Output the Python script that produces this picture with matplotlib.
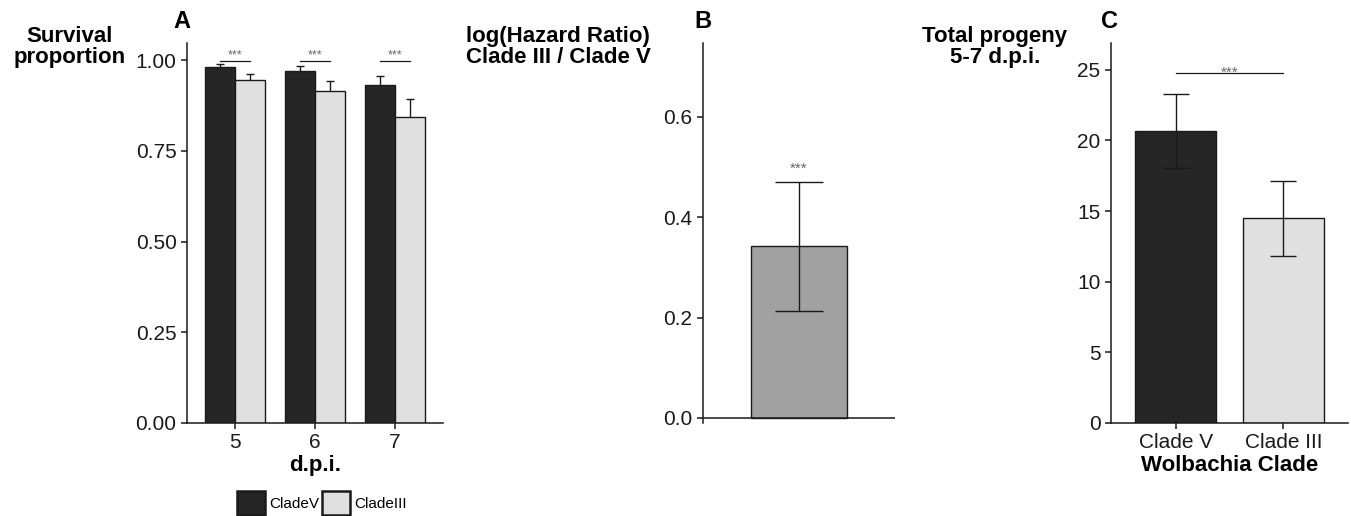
import matplotlib
matplotlib.use("Agg")
import matplotlib.pyplot as plt
from matplotlib.patches import Patch
import numpy as np

plt.rcParams['font.family'] = ['Liberation Sans', 'DejaVu Sans']

# panel A: survival proportion by d.p.i.
dpi_days = [5, 6, 7]
surv_v = [0.981, 0.970, 0.930]
surv_v_err = [0.009, 0.013, 0.025]
surv_iii = [0.944, 0.915, 0.842]
surv_iii_err = [0.018, 0.028, 0.051]
sig_a = ['***', '***', '***']

# panel B: log hazard ratio
hr_value = 0.342
hr_err = 0.128

# panel C: total progeny
clades = ['Clade V', 'Clade III']
progeny = [20.68, 14.5]
progeny_err = [2.63, 2.65]

dark = '#262626'
light = '#e0e0e0'
mid = '#a1a1a1'
ink = '#1a1a1a'
star = '#666666'

fig = plt.figure(figsize=(13.51, 5.16), dpi=100)
bottom = 1 - 423 / 516
top = 1 - 43 / 516
axA = fig.add_axes([187 / 1351, bottom, (443 - 187) / 1351, top - bottom])
axB = fig.add_axes([703 / 1351, bottom, (895 - 703) / 1351, top - bottom])
axC = fig.add_axes([1111 / 1351, bottom, (1348 - 1111) / 1351, top - bottom])

for ax in (axA, axB, axC):
    for s in ('top', 'right'):
        ax.spines[s].set_visible(False)
    for s in ('left', 'bottom'):
        ax.spines[s].set_linewidth(1.1)
        ax.spines[s].set_color(ink)
    ax.tick_params(labelsize=15, colors=ink, width=1.1, length=4)

# ---- A
x = np.array(dpi_days, dtype=float)
w = 0.375
ekw = dict(ecolor=ink, elinewidth=1.0, capthick=1.0)
axA.errorbar(x - w / 2, surv_v, yerr=surv_v_err, fmt='none', capsize=3.2, zorder=1, **ekw)
axA.errorbar(x + w / 2, surv_iii, yerr=surv_iii_err, fmt='none', capsize=3.2, zorder=1, **ekw)
axA.bar(x - w / 2, surv_v, width=w, color=dark, edgecolor=ink, linewidth=1.0, zorder=2)
axA.bar(x + w / 2, surv_iii, width=w, color=light, edgecolor=ink, linewidth=1.0, zorder=2)
for xi, s in zip(x, sig_a):
    axA.plot([xi - w / 2, xi + w / 2], [0.998, 0.998], color=ink, lw=0.9, zorder=3)
    axA.text(xi, 0.996, s, ha='center', va='bottom', fontsize=9, color=star)
axA.set_xlim(4.4, 7.6)
axA.set_ylim(0, 1.047)
axA.set_xticks(dpi_days)
axA.set_yticks([0, 0.25, 0.5, 0.75, 1.0])
axA.set_yticklabels(['0.00', '0.25', '0.50', '0.75', '1.00'])
axA.set_xlabel('d.p.i.', fontsize=16, fontweight='bold', labelpad=2)

# ---- B
axB.bar([1], [hr_value], width=0.6, color=mid, edgecolor=ink, linewidth=1.0, zorder=2)
axB.errorbar([1], [hr_value], yerr=[hr_err], fmt='none', capsize=17, zorder=3, **ekw)
axB.text(1, hr_value + hr_err + 0.012, '***', ha='center', va='bottom', fontsize=11, color=star)
axB.axhline(0, color=ink, lw=1.1, zorder=4)
axB.spines['bottom'].set_visible(False)
axB.set_xlim(0.4, 1.6)
axB.set_ylim(-0.01, 0.7475)
axB.set_xticks([])
axB.set_yticks([0, 0.2, 0.4, 0.6])
axB.set_yticklabels(['0.0', '0.2', '0.4', '0.6'])

# ---- C
xc = np.arange(1, len(clades) + 1)
axC.bar(xc, progeny, width=0.75, color=[dark, light], edgecolor=ink, linewidth=1.0, zorder=2)
axC.errorbar(xc, progeny, yerr=progeny_err, fmt='none', capsize=9.4, zorder=3, **ekw)
axC.plot([xc[0], xc[1]], [24.76, 24.76], color=ink, lw=0.9)
axC.text(xc.mean(), 24.3, '***', ha='center', va='bottom', fontsize=11, color=star)
axC.set_xlim(0.4, 2.6)
axC.set_ylim(0, 26.9)
axC.set_xticks(xc)
axC.set_xticklabels(clades)
axC.set_yticks([0, 5, 10, 15, 20, 25])
axC.set_xlabel('Wolbachia Clade', fontsize=16, fontweight='bold', labelpad=2)

# y labels and panel letters
fig.text(70 / 1351, 1 - 47 / 516, 'Survival\nproportion', ha='center', va='center',
         fontsize=16, fontweight='bold', linespacing=1.0)
fig.text(466 / 1351, 1 - 47 / 516, 'log(Hazard Ratio)\nClade III / Clade V', ha='left', va='center',
         fontsize=16, fontweight='bold', linespacing=1.0)
fig.text(995 / 1351, 1 - 47 / 516, 'Total progeny\n5-7 d.p.i.', ha='center', va='center',
         fontsize=16, fontweight='bold', linespacing=1.0)
for lx, lab in [(182, 'A'), (703, 'B'), (1110, 'C')]:
    fig.text(lx / 1351, 1 - 22 / 516, lab, ha='center', va='center', fontsize=17, fontweight='bold')

handles = [Patch(facecolor=dark, edgecolor=ink, linewidth=1.8, label='CladeV'),
           Patch(facecolor=light, edgecolor=ink, linewidth=1.8, label='CladeIII')]
fig.legend(handles=handles, loc='center', bbox_to_anchor=(322 / 1351, 1 - 503 / 516), ncol=2,
           frameon=False, fontsize=11, handlelength=1.8, handleheight=2.0, handletextpad=0.3,
           columnspacing=0.2, borderpad=0, borderaxespad=0)

fig.savefig('out.png', dpi=100)
